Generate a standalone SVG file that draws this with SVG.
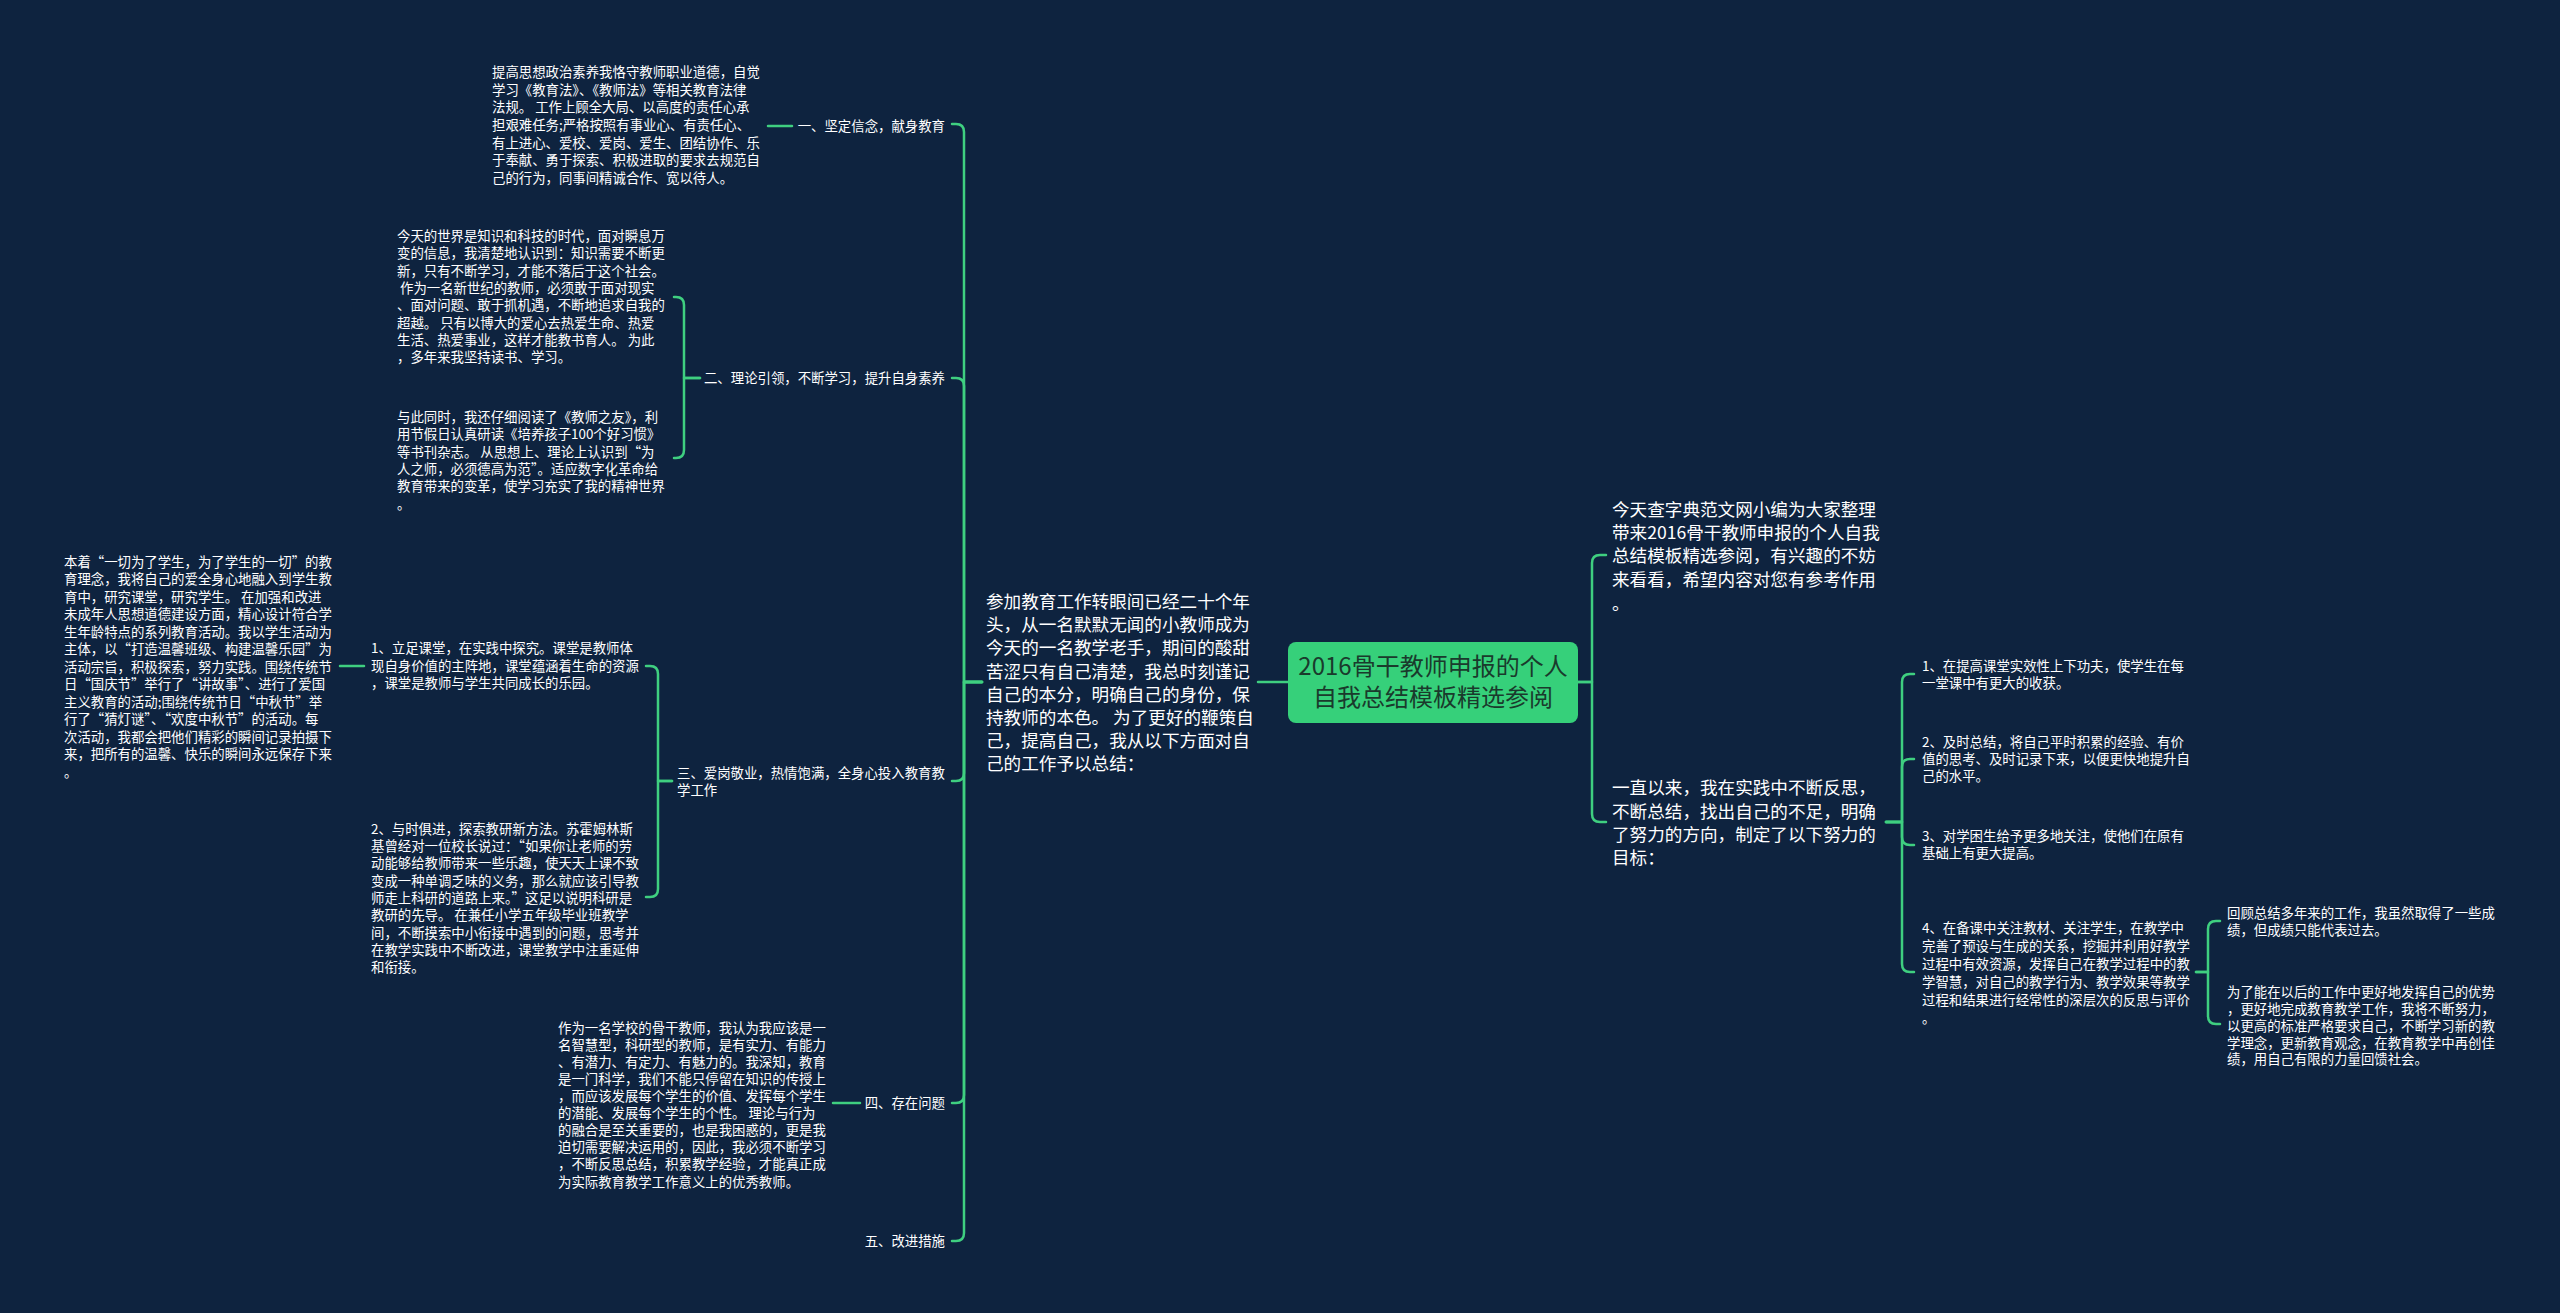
<svg xmlns="http://www.w3.org/2000/svg" width="2560" height="1313" viewBox="0 0 2560 1313">
<style>
.t{font-family:"Noto Sans CJK SC","Noto Sans",sans-serif;fill:#ffffff}
.s{font-size:13.4px}
.m{font-size:17.6px}
.c{fill:none;stroke:#3fcf80;stroke-width:2.5;stroke-linecap:round;stroke-linejoin:round}
.root{fill:#36d07a}
.rt{font-family:"Noto Sans CJK SC","Noto Sans",sans-serif;font-size:24px;fill:#1a3a2c}
</style>
<rect width="2560" height="1313" fill="#0e233f"/>
<g id="connectors">
<path class="c" d="M1288 682 H1258"/>
<path class="c" d="M982 682 H964 V132 Q964 124 956 124 H952"/>
<path class="c" d="M982 682 H964 V386 Q964 378 956 378 H952"/>
<path class="c" d="M982 682 H964 V773 Q964 781 956 781 H952"/>
<path class="c" d="M982 682 H964 V1095 Q964 1103 956 1103 H952"/>
<path class="c" d="M982 682 H964 V1233 Q964 1241 956 1241 H952"/>
<path class="c" d="M792 126 H768"/>
<path class="c" d="M700 378 H684 V305 Q684 297 676 297 H674"/>
<path class="c" d="M700 378 H684 V450 Q684 458 676 458 H674"/>
<path class="c" d="M672 781 H658 V674 Q658 666 650 666 H646"/>
<path class="c" d="M672 781 H658 V889 Q658 897 650 897 H646"/>
<path class="c" d="M364 666 H340"/>
<path class="c" d="M860 1103 H833"/>
<path class="c" d="M1578 682 H1592 V563 Q1592 555 1600 555 H1606"/>
<path class="c" d="M1578 682 H1592 V814 Q1592 822 1600 822 H1606"/>
<path class="c" d="M1886 822 H1902 V682 Q1902 674 1910 674 H1914"/>
<path class="c" d="M1886 822 H1902 V767 Q1902 759 1910 759 H1914"/>
<path class="c" d="M1886 822 H1902 V837 Q1902 845 1910 845 H1914"/>
<path class="c" d="M1886 822 H1902 V964 Q1902 972 1910 972 H1914"/>
<path class="c" d="M2196 972 H2208 V929 Q2208 921 2216 921 H2220"/>
<path class="c" d="M2196 972 H2208 V1016 Q2208 1024 2216 1024 H2220"/>
</g>
<g id="root">
<rect class="root" x="1288" y="642" width="290" height="81" rx="8"/>
<text class="rt" text-anchor="middle"><tspan x="1433" y="675">2016骨干教师申报的个人</tspan><tspan x="1433" y="706">自我总结模板精选参阅</tspan></text>
</g>
<g id="intro-left">
<text class="t m"><tspan x="986" y="608">参加教育工作转眼间已经二十个年</tspan><tspan x="986" y="631">头，从一名默默无闻的小教师成为</tspan><tspan x="986" y="654">今天的一名教学老手，期间的酸甜</tspan><tspan x="986" y="678">苦涩只有自己清楚，我总时刻谨记</tspan><tspan x="986" y="701">自己的本分，明确自己的身份，保</tspan><tspan x="986" y="724">持教师的本色。 为了更好的鞭策自</tspan><tspan x="986" y="747">己，提高自己，我从以下方面对自</tspan><tspan x="986" y="770">己的工作予以总结：</tspan></text>
</g>
<g id="b1">
<text class="t s" x="945" y="131" text-anchor="end">一、坚定信念，献身教育</text>
</g>
<g id="b1-text">
<text class="t s"><tspan x="492" y="77">提高思想政治素养我恪守教师职业道德，自觉</tspan><tspan x="492" y="95">学习《教育法》、《教师法》等相关教育法律</tspan><tspan x="492" y="112">法规。 工作上顾全大局、以高度的责任心承</tspan><tspan x="492" y="130">担艰难任务;严格按照有事业心、有责任心、</tspan><tspan x="492" y="148">有上进心、爱校、爱岗、爱生、团结协作、乐</tspan><tspan x="492" y="165">于奉献、勇于探索、积极进取的要求去规范自</tspan><tspan x="492" y="183">己的行为，同事间精诚合作、宽以待人。</tspan></text>
</g>
<g id="b2">
<text class="t s" x="945" y="383" text-anchor="end">二、理论引领，不断学习，提升自身素养</text>
</g>
<g id="b2-text1">
<text class="t s"><tspan x="397" y="241">今天的世界是知识和科技的时代，面对瞬息万</tspan><tspan x="397" y="258">变的信息，我清楚地认识到：知识需要不断更</tspan><tspan x="397" y="276">新，只有不断学习，才能不落后于这个社会。</tspan><tspan x="397" y="293"> 作为一名新世纪的教师，必须敢于面对现实</tspan><tspan x="397" y="310">、面对问题、敢于抓机遇，不断地追求自我的</tspan><tspan x="397" y="328">超越。 只有以博大的爱心去热爱生命、热爱</tspan><tspan x="397" y="345">生活、热爱事业，这样才能教书育人。 为此</tspan><tspan x="397" y="362">，多年来我坚持读书、学习。</tspan></text>
</g>
<g id="b2-text2">
<text class="t s"><tspan x="397" y="422">与此同时，我还仔细阅读了《教师之友》，利</tspan><tspan x="397" y="439">用节假日认真研读《培养孩子100个好习惯》</tspan><tspan x="397" y="457">等书刊杂志。 从思想上、理论上认识到“为</tspan><tspan x="397" y="474">人之师，必须德高为范”。适应数字化革命给</tspan><tspan x="397" y="491">教育带来的变革，使学习充实了我的精神世界</tspan><tspan x="397" y="509">。</tspan></text>
</g>
<g id="b3">
<text class="t s"><tspan x="677" y="778">三、爱岗敬业，热情饱满，全身心投入教育教</tspan><tspan x="677" y="795">学工作</tspan></text>
</g>
<g id="b3-1">
<text class="t s"><tspan x="371" y="653">1、立足课堂，在实践中探究。课堂是教师体</tspan><tspan x="371" y="671">现自身价值的主阵地，课堂蕴涵着生命的资源</tspan><tspan x="371" y="688">，课堂是教师与学生共同成长的乐园。</tspan></text>
</g>
<g id="b3-1-text">
<text class="t s"><tspan x="64" y="567">本着“一切为了学生，为了学生的一切”的教</tspan><tspan x="64" y="584">育理念，我将自己的爱全身心地融入到学生教</tspan><tspan x="64" y="602">育中，研究课堂，研究学生。 在加强和改进</tspan><tspan x="64" y="619">未成年人思想道德建设方面，精心设计符合学</tspan><tspan x="64" y="637">生年龄特点的系列教育活动。我以学生活动为</tspan><tspan x="64" y="654">主体，以“打造温馨班级、构建温馨乐园”为</tspan><tspan x="64" y="672">活动宗旨，积极探索，努力实践。围绕传统节</tspan><tspan x="64" y="689">日“国庆节”举行了“讲故事”、进行了爱国</tspan><tspan x="64" y="707">主义教育的活动;围绕传统节日“中秋节”举</tspan><tspan x="64" y="724">行了“猜灯谜”、“欢度中秋节”的活动。每</tspan><tspan x="64" y="742">次活动，我都会把他们精彩的瞬间记录拍摄下</tspan><tspan x="64" y="759">来，把所有的温馨、快乐的瞬间永远保存下来</tspan><tspan x="64" y="777">。</tspan></text>
</g>
<g id="b3-2">
<text class="t s"><tspan x="371" y="834">2、与时俱进，探索教研新方法。苏霍姆林斯</tspan><tspan x="371" y="851">基曾经对一位校长说过：“如果你让老师的劳</tspan><tspan x="371" y="868">动能够给教师带来一些乐趣，使天天上课不致</tspan><tspan x="371" y="886">变成一种单调乏味的义务，那么就应该引导教</tspan><tspan x="371" y="903">师走上科研的道路上来。”这足以说明科研是</tspan><tspan x="371" y="920">教研的先导。 在兼任小学五年级毕业班教学</tspan><tspan x="371" y="938">间，不断摸索中小衔接中遇到的问题，思考并</tspan><tspan x="371" y="955">在教学实践中不断改进，课堂教学中注重延伸</tspan><tspan x="371" y="972">和衔接。</tspan></text>
</g>
<g id="b4">
<text class="t s" x="945" y="1108" text-anchor="end">四、存在问题</text>
</g>
<g id="b4-text">
<text class="t s"><tspan x="558" y="1033">作为一名学校的骨干教师，我认为我应该是一</tspan><tspan x="558" y="1050">名智慧型，科研型的教师，是有实力、有能力</tspan><tspan x="558" y="1067">、有潜力、有定力、有魅力的。我深知，教育</tspan><tspan x="558" y="1084">是一门科学，我们不能只停留在知识的传授上</tspan><tspan x="558" y="1101">，而应该发展每个学生的价值、发挥每个学生</tspan><tspan x="558" y="1118">的潜能、发展每个学生的个性。 理论与行为</tspan><tspan x="558" y="1135">的融合是至关重要的，也是我困惑的，更是我</tspan><tspan x="558" y="1152">迫切需要解决运用的，因此，我必须不断学习</tspan><tspan x="558" y="1169">，不断反思总结，积累教学经验，才能真正成</tspan><tspan x="558" y="1187">为实际教育教学工作意义上的优秀教师。</tspan></text>
</g>
<g id="b5">
<text class="t s" x="945" y="1246" text-anchor="end">五、改进措施</text>
</g>
<g id="intro-right">
<text class="t m"><tspan x="1612" y="516">今天查字典范文网小编为大家整理</tspan><tspan x="1612" y="539">带来2016骨干教师申报的个人自我</tspan><tspan x="1612" y="562">总结模板精选参阅，有兴趣的不妨</tspan><tspan x="1612" y="586">来看看，希望内容对您有参考作用</tspan><tspan x="1612" y="610">。</tspan></text>
</g>
<g id="goal">
<text class="t m"><tspan x="1612" y="794">一直以来，我在实践中不断反思，</tspan><tspan x="1612" y="818">不断总结，找出自己的不足，明确</tspan><tspan x="1612" y="841">了努力的方向，制定了以下努力的</tspan><tspan x="1612" y="864">目标：</tspan></text>
</g>
<g id="g1">
<text class="t s"><tspan x="1922" y="671">1、在提高课堂实效性上下功夫，使学生在每</tspan><tspan x="1922" y="688">一堂课中有更大的收获。</tspan></text>
</g>
<g id="g2">
<text class="t s"><tspan x="1922" y="747">2、及时总结，将自己平时积累的经验、有价</tspan><tspan x="1922" y="764">值的思考、及时记录下来，以便更快地提升自</tspan><tspan x="1922" y="781">己的水平。</tspan></text>
</g>
<g id="g3">
<text class="t s"><tspan x="1922" y="841">3、对学困生给予更多地关注，使他们在原有</tspan><tspan x="1922" y="858">基础上有更大提高。</tspan></text>
</g>
<g id="g4">
<text class="t s"><tspan x="1922" y="933">4、在备课中关注教材、关注学生，在教学中</tspan><tspan x="1922" y="951">完善了预设与生成的关系，挖掘并利用好教学</tspan><tspan x="1922" y="969">过程中有效资源，发挥自己在教学过程中的教</tspan><tspan x="1922" y="987">学智慧，对自己的教学行为、教学效果等教学</tspan><tspan x="1922" y="1005">过程和结果进行经常性的深层次的反思与评价</tspan><tspan x="1922" y="1023">。</tspan></text>
</g>
<g id="g4-1">
<text class="t s"><tspan x="2227" y="918">回顾总结多年来的工作，我虽然取得了一些成</tspan><tspan x="2227" y="935">绩，但成绩只能代表过去。</tspan></text>
</g>
<g id="g4-2">
<text class="t s"><tspan x="2227" y="997">为了能在以后的工作中更好地发挥自己的优势</tspan><tspan x="2227" y="1014">，更好地完成教育教学工作，我将不断努力，</tspan><tspan x="2227" y="1031">以更高的标准严格要求自己，不断学习新的教</tspan><tspan x="2227" y="1048">学理念，更新教育观念，在教育教学中再创佳</tspan><tspan x="2227" y="1064">绩，用自己有限的力量回馈社会。</tspan></text>
</g>
</svg>
